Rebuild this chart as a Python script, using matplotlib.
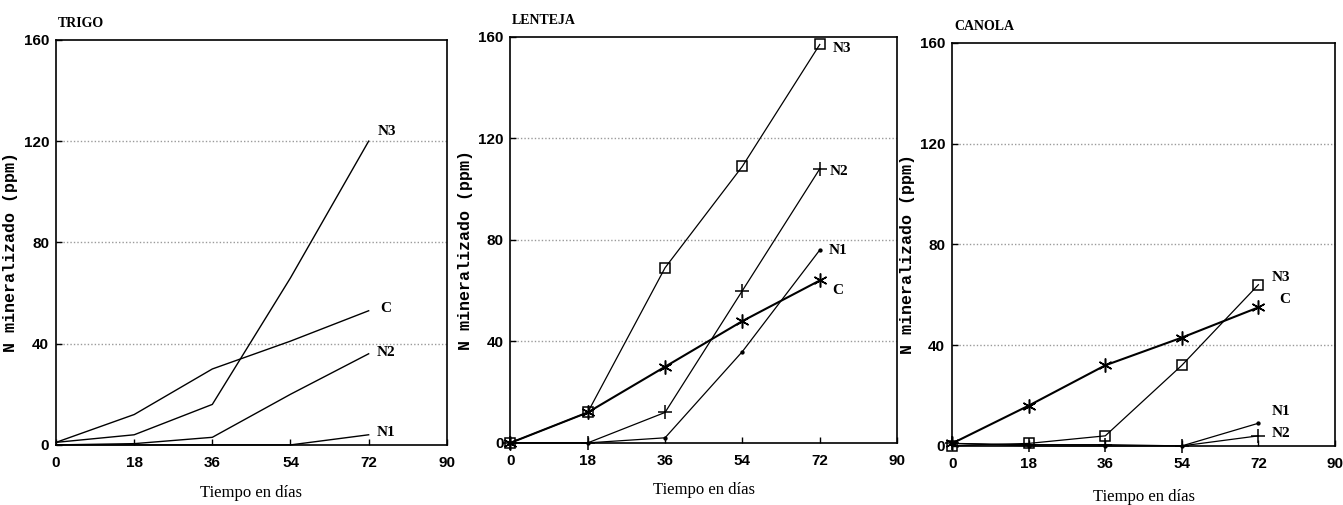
import matplotlib
matplotlib.use("Agg")
import matplotlib.pyplot as plt
from matplotlib import font_manager

# Data (N mineralizado, ppm)
dias = [0, 18, 36, 54, 72]

trigo_N3 = [1, 4, 16, 66, 120]
trigo_C = [1, 12, 30, 41, 53]
trigo_N2 = [0, 0.5, 3, 20, 36]
trigo_N1 = [0, 0, 0, 0, 4]

lenteja_N3 = [0, 12, 69, 109, 157]
lenteja_N2 = [0, 0, 12, 60, 108]
lenteja_N1 = [0, 0, 2, 36, 76]
lenteja_C = [0, 12, 30, 48, 64]

canola_C = [1, 16, 32, 43, 55]
canola_N3 = [0, 1, 4, 32, 64]
canola_N1 = [1, 0, 0, 0, 9]
canola_N2 = [1, 0.5, 0.5, 0, 4]

xticks = [0, 18, 36, 54, 72, 90]
yticks = [0, 40, 80, 120, 160]
grid_y = [40, 80, 120]

available = {f.name for f in font_manager.fontManager.ttflist}
narrow = "Liberation Sans Narrow" if "Liberation Sans Narrow" in available else "Liberation Sans"

fig = plt.figure(figsize=(13.43, 5.05), dpi=100)

positions = [
    [0.0417, 0.119, 0.291, 0.802],
    [0.380, 0.123, 0.288, 0.804],
    [0.709, 0.117, 0.285, 0.798],
]
xlabel_y = [-0.118, -0.115, -0.126]
titles = ["TRIGO", "LENTEJA", "CANOLA"]

asterisk = (6, 2, 0)

panels = [
    # (series, marker, markersize, linewidth, label, label_xy)
    [
        (trigo_N3, None, 0, 1.0, "N3", (74, 124)),
        (trigo_C, None, 0, 1.0, "C", (74.6, 54)),
        (trigo_N2, None, 0, 1.0, "N2", (73.8, 36.5)),
        (trigo_N1, None, 0, 1.0, "N1", (73.8, 5)),
    ],
    [
        (lenteja_N3, "s", 7, 0.9, "N3", (75, 155.5)),
        (lenteja_N2, "+", 10, 0.9, "N2", (74.2, 107)),
        (lenteja_N1, ".", 4, 0.9, "N1", (74, 76)),
        (lenteja_C, asterisk, 10, 1.5, "C", (75, 60)),
    ],
    [
        (canola_C, asterisk, 10, 1.5, "C", (77, 58)),
        (canola_N3, "s", 7, 0.9, "N3", (75.2, 67)),
        (canola_N1, ".", 4, 0.9, "N1", (75.2, 13.5)),
        (canola_N2, "+", 10, 0.9, "N2", (75.2, 5)),
    ],
]

for pos, title, series, xly in zip(positions, titles, panels, xlabel_y):
    ax = fig.add_axes(pos)
    ax.set_xlim(0, 90)
    ax.set_ylim(0, 160)
    for g in grid_y:
        ax.axhline(g, color="#9a9a9a", linestyle=(0, (1, 1.5)), linewidth=1.0, zorder=0)
    for vals, mk, ms, lw, lab, (lx, ly) in series:
        if mk is None:
            ax.plot(dias, vals, color="black", linewidth=lw, clip_on=False)
        else:
            ax.plot(dias, vals, color="black", linewidth=lw, marker=mk, markersize=ms,
                    markerfacecolor="none" if mk == "s" else "black",
                    markeredgecolor="black", markeredgewidth=1.1, clip_on=False)
        ax.text(lx, ly, lab, fontsize=11, family="Liberation Serif", fontweight="bold",
                ha="left", va="center")
    ax.set_xticks(xticks)
    ax.set_yticks(yticks)
    ax.tick_params(direction="in", length=4, width=1)
    ax.tick_params(axis="x", pad=8)
    ax.tick_params(axis="y", pad=5)
    for t in ax.get_xticklabels() + ax.get_yticklabels():
        t.set_family(narrow)
        t.set_fontweight("bold")
        t.set_fontsize(11)
    for s in ax.spines.values():
        s.set_linewidth(1.2)
    ax.set_xlabel("Tiempo en días", family="Liberation Serif", fontsize=12, va="center")
    ax.xaxis.set_label_coords(0.5, xly)
    ax.set_ylabel("N mineralizado (ppm)", family="Liberation Mono", fontweight="bold",
                  fontsize=12)
    ax.yaxis.set_label_coords(-0.097, 0.476)
    ax.text(0.005, 1.025, title, transform=ax.transAxes, family="Liberation Serif",
            fontweight="bold", fontsize=10, ha="left", va="bottom")

fig.savefig("out.png", dpi=100)
